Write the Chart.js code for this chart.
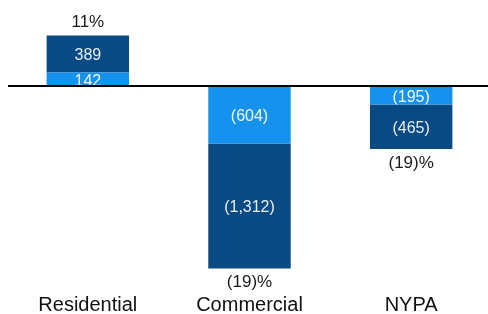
<!DOCTYPE html>
<html><head><meta charset="utf-8">
<script src="https://cdn.jsdelivr.net/npm/chart.js@4/dist/chart.umd.min.js"></script>
<style>html,body{margin:0;padding:0;overflow:hidden;background:#fff;width:488px;height:314px}canvas{display:block}</style>
</head><body>
<canvas id="c" width="492" height="314" style="width:492px;height:314px"></canvas>
<script>
const categories = ['Residential', 'Commercial', 'NYPA'];
const lightValues = [142, -604, -195];
const darkValues = [389, -1312, -465];
const lightLabels = ['142', '(604)', '(195)'];
const darkLabels = ['389', '(1,312)', '(465)'];
const pctLabels = ['11%', '(19)%', '(19)%'];

const FONT = '"Liberation Sans", Arial, sans-serif';

const labelPlugin = {
  id: 'labels',
  afterDatasetsDraw(chart) {
    const ctx = chart.ctx;
    const y = chart.scales.y;
    const sets = [[0, lightLabels], [1, darkLabels]];
    sets.forEach(([di, labels]) => {
      const meta = chart.getDatasetMeta(di);
      meta.data.forEach((bar, i) => {
        const top = Math.min(bar.y, bar.base), bot = Math.max(bar.y, bar.base);
        const half = bar.width / 2;
        ctx.save();
        ctx.beginPath();
        ctx.rect(bar.x - half, top, bar.width, bot - top);
        ctx.clip();
        ctx.font = '16px ' + FONT;
        ctx.fillStyle = di === 0 ? '#f2f7fc' : '#e6edf5';
        ctx.textAlign = 'center';
        ctx.textBaseline = 'middle';
        ctx.fillText(labels[i], bar.x, (top + bot) / 2 + 2);
        ctx.restore();
      });
    });
    const dark = chart.getDatasetMeta(1);
    ctx.save();
    ctx.font = '17px ' + FONT;
    ctx.fillStyle = '#1a1a1a';
    ctx.textAlign = 'center';
    ctx.textBaseline = 'middle';
    dark.data.forEach((bar, i) => {
      const total = lightValues[i] + darkValues[i];
      const py = total >= 0 ? bar.y - 13 : bar.y + 14;
      ctx.fillText(pctLabels[i], bar.x, py);
    });
    ctx.restore();
    const zy = y.getPixelForValue(0);
    ctx.save();
    ctx.strokeStyle = '#000';
    ctx.lineWidth = 2;
    ctx.beginPath();
    ctx.moveTo(chart.chartArea.left + 1, zy);
    ctx.lineTo(chart.chartArea.right, zy);
    ctx.stroke();
    ctx.restore();
  }
};

new Chart(document.getElementById('c'), {
  type: 'bar',
  data: {
    labels: categories,
    datasets: [
      { data: lightValues, backgroundColor: '#1592ee', borderWidth: 0 },
      { data: darkValues, backgroundColor: '#0a4a82', borderWidth: 0 }
    ]
  },
  options: {
    responsive: false,
    animation: false,
    devicePixelRatio: 1,
    layout: { padding: { left: 7, right: 0, top: 0, bottom: 0 } },
    categoryPercentage: 1,
    barPercentage: 0.51,
    plugins: { legend: { display: false }, tooltip: { enabled: false } },
    scales: {
      x: {
        stacked: true,
        grid: { display: false },
        border: { display: false },
        ticks: { color: '#111', font: { family: FONT, size: 20 }, padding: -2 },
        afterFit(scale) { scale.height = 27; }
      },
      y: {
        stacked: true,
        display: false,
        min: -2110,
        max: 903
      }
    }
  },
  plugins: [labelPlugin]
});
</script>
</body></html>
